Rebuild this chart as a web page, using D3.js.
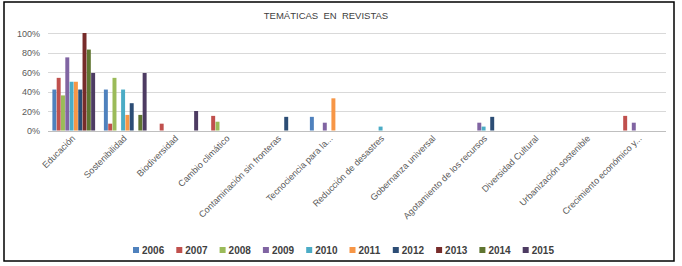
<!DOCTYPE html>
<html>
<head>
<meta charset="utf-8">
<script src="https://cdn.jsdelivr.net/npm/d3@7"></script>
<style>
  body { margin: 0; background: #fff; }
  svg { display: block; font-family: "Liberation Sans", Arial, sans-serif; }
</style>
</head>
<body>
<div id="chart"></div>
<script>
const categories = ["Educación", "Sostenibilidad", "Biodiversidad", "Cambio climático",
    "Contaminación sin fronteras", "Tecnociencia para la...", "Reducción de desastres",
    "Gobernanza universal", "Agotamiento de los recursos", "Diversidad Cultural",
    "Urbanización sostenible", "Crecimiento económico y..."];
const years = ["2006", "2007", "2008", "2009", "2010", "2011", "2012", "2013", "2014", "2015"];
const colors = ["#4F81BD", "#C0504D", "#9BBB59", "#8064A2", "#4BACC6", "#F79646",
    "#2C4D75", "#772C2A", "#5F7530", "#4D3B62"];
// one array per year, one value (%) per category
const v2006 = [42, 42, 0, 0, 0, 14, 0, 0, 0, 0, 0, 0];
const v2007 = [54, 7, 7, 15, 0, 0, 0, 0, 0, 0, 0, 15];
const v2008 = [36, 54, 0, 9, 0, 0, 0, 0, 0, 0, 0, 0];
const v2009 = [75, 0, 0, 0, 0, 8, 0, 0, 8, 0, 0, 8];
const v2010 = [50, 42, 0, 0, 0, 0, 4, 0, 4, 0, 0, 0];
const v2011 = [50, 16, 0, 0, 0, 33, 0, 0, 0, 0, 0, 0];
const v2012 = [42, 28, 0, 0, 14, 0, 0, 0, 14, 0, 0, 0];
const v2013 = [100, 0, 0, 0, 0, 0, 0, 0, 0, 0, 0, 0];
const v2014 = [83, 16, 0, 0, 0, 0, 0, 0, 0, 0, 0, 0];
const v2015 = [59, 59, 20, 0, 0, 0, 0, 0, 0, 0, 0, 0];
const series = [v2006, v2007, v2008, v2009, v2010, v2011, v2012, v2013, v2014, v2015];
const yTicks = [0, 20, 40, 60, 80, 100];

const W = 682, H = 266;
const margin = {top: 33, right: 16, bottom: 135.5, left: 48};

const svg = d3.select("#chart").append("svg")
    .attr("width", W).attr("height", H);

svg.append("rect")
    .attr("x", 4).attr("y", 2).attr("width", 670).attr("height", 259)
    .attr("fill", "none").attr("stroke", "#000").attr("stroke-width", 1.5);

const x0 = d3.scaleBand()
    .domain(categories)
    .range([margin.left, W - margin.right])
    .paddingInner(0.157).paddingOuter(0.0785);
const x1 = d3.scaleBand()
    .domain(years)
    .range([0, x0.bandwidth()])
    .padding(0.08);
const y = d3.scaleLinear()
    .domain([0, 100])
    .range([H - margin.bottom, margin.top]);

// gridlines
svg.append("g")
    .selectAll("line")
    .data(yTicks)
    .join("line")
    .attr("x1", margin.left).attr("x2", W - margin.right)
    .attr("y1", d => Math.round(y(d)) + 0.5).attr("y2", d => Math.round(y(d)) + 0.5)
    .attr("stroke", d => d === 0 ? "#bfbfbf" : "#d9d9d9");

// y labels
svg.append("g")
    .selectAll("text")
    .data(yTicks)
    .join("text")
    .attr("x", 40).attr("y", d => y(d) + 3.5)
    .attr("text-anchor", "end")
    .attr("font-size", 9).attr("fill", "#595959")
    .text(d => d + "%");

// bars
const groups = svg.append("g")
    .selectAll("g")
    .data(series)
    .join("g")
    .attr("fill", (d, i) => colors[i]);
groups.selectAll("rect")
    .data((d, i) => d.map((v, j) => ({year: years[i], cat: categories[j], v: v})))
    .join("rect")
    .attr("x", d => x0(d.cat) + x1(d.year))
    .attr("y", d => y(d.v))
    .attr("width", x1.bandwidth())
    .attr("height", d => y(0) - y(d.v));

// x labels
svg.append("g")
    .selectAll("text")
    .data(categories)
    .join("text")
    .attr("transform", d => `translate(${x0(d) + x0.bandwidth() / 2 + 2},139) rotate(-45)`)
    .attr("text-anchor", "end")
    .attr("font-size", 9).attr("fill", "#595959")
    .text(d => d);

// title
svg.append("text")
    .attr("x", 326).attr("y", 19)
    .attr("text-anchor", "middle")
    .attr("font-size", 9.5).attr("fill", "#404040")
    .attr("xml:space", "preserve")
    .style("white-space", "pre")
    .text("TEMÁTICAS  EN  REVISTAS");

// legend
const legend = svg.append("g")
    .selectAll("g")
    .data(years)
    .join("g")
    .attr("transform", (d, i) => `translate(${133 + i * 43.3},247)`);
legend.append("rect")
    .attr("width", 6).attr("height", 6)
    .attr("fill", (d, i) => colors[i]);
legend.append("text")
    .attr("x", 9).attr("y", 7)
    .attr("font-size", 10).attr("font-weight", "bold").attr("fill", "#404040")
    .text(d => d);
</script>
</body>
</html>
